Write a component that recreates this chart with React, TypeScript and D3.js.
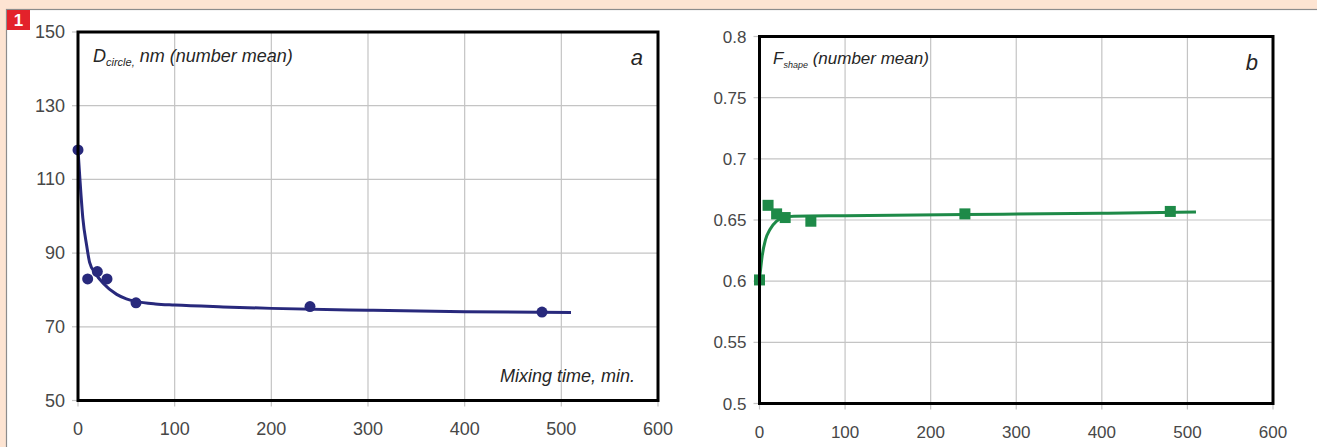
import React from "react";
import * as d3 from "d3";

// Panel a: mean circle-equivalent diameter vs mixing time
const timeA = [0, 10, 20, 30, 60, 240, 480];
const diameter = [118, 83, 85, 83, 76.5, 75.5, 74];
const fitTimeA = [0, 2, 5, 9, 12, 18, 26, 40, 50, 60, 80, 100, 150, 200, 300, 400, 510];
const fitDiameter = [118, 110, 99.5, 92, 87.5, 84.5, 81.8, 78.8, 77.6, 76.9, 76.2, 75.9, 75.4, 75.0, 74.5, 74.1, 73.9];

// Panel b: mean shape factor vs mixing time
const timeB = [0, 10, 20, 30, 60, 240, 480];
const shape = [0.601, 0.662, 0.655, 0.652, 0.649, 0.655, 0.657];
const fitTimeB = [0, 3, 7, 12, 20, 28, 40, 100, 240, 400, 510];
const fitShape = [0.601, 0.62, 0.634, 0.642, 0.649, 0.652, 0.653, 0.6535, 0.6545, 0.6555, 0.6565];

const xTicks = [0, 100, 200, 300, 400, 500, 600];
const yTicksA = [50, 70, 90, 110, 130, 150];
const yTicksB = [0.5, 0.55, 0.6, 0.65, 0.7, 0.75, 0.8];

const W = 1317;
const H = 447;
const FONT = "'Liberation Sans', Arial, sans-serif";
const GRID = "#c4c4c4";
const TICK_COLOR = "#474747";
const TEXT_COLOR = "#262626";

type PanelProps = {
  x0: number;
  x1: number;
  y0: number;
  y1: number;
  yDomain: [number, number];
  yTicks: number[];
  tickSize: number;
  fmt: (v: number) => string;
  children: (x: d3.ScaleLinear<number, number>, y: d3.ScaleLinear<number, number>) => React.ReactNode;
};

function Panel({ x0, x1, y0, y1, yDomain, yTicks, tickSize, fmt, children }: PanelProps) {
  const x = d3.scaleLinear().domain([0, 600]).range([x0, x1]);
  const y = d3.scaleLinear().domain(yDomain).range([y1, y0]);
  return (
    <g>
      <rect x={x0} y={y0} width={x1 - x0} height={y1 - y0} fill="#fff" />
      {xTicks.slice(1, -1).map((t) => (
        <line key={"gx" + t} x1={x(t)} x2={x(t)} y1={y0} y2={y1} stroke={GRID} strokeWidth={1.2} />
      ))}
      {yTicks.slice(1, -1).map((t) => (
        <line key={"gy" + t} x1={x0} x2={x1} y1={y(t)} y2={y(t)} stroke={GRID} strokeWidth={1.2} />
      ))}
      {xTicks.map((t) => (
        <g key={"tx" + t}>
          <line x1={x(t)} x2={x(t)} y1={y1} y2={y1 + 6} stroke={GRID} strokeWidth={1.2} />
          <text x={x(t)} y={y1 + 34} textAnchor="middle" fontSize={tickSize} fill={TICK_COLOR} fontFamily={FONT}>
            {t}
          </text>
        </g>
      ))}
      {yTicks.map((t) => (
        <g key={"ty" + t}>
          <line x1={x0 - 6} x2={x0} y1={y(t)} y2={y(t)} stroke={GRID} strokeWidth={1.2} />
          <text x={x0 - 13} y={y(t) + 6} textAnchor="end" fontSize={tickSize} fill={TICK_COLOR} fontFamily={FONT}>
            {fmt(t)}
          </text>
        </g>
      ))}
      {children(x, y)}
      <rect x={x0} y={y0} width={x1 - x0} height={y1 - y0} fill="none" stroke="#000" strokeWidth={3} />
    </g>
  );
}

export default function App() {
  const navy = "#28297c";
  const green = "#1e8a48";
  return (
    <div style={{ position: "fixed", left: 0, top: 0 }}>
      <svg width={W} height={H} style={{ display: "block" }}>
        <rect x={0} y={0} width={W} height={H} fill="#fde4d2" />
        <rect x={6.5} y={9.5} width={W} height={H} fill="#fff" stroke="#8c8c8c" strokeWidth={1.2} />
        <rect x={7} y={10} width={23} height={20} fill="#e3222b" />
        <text x={18.5} y={26} textAnchor="middle" fontSize={17} fontWeight="bold" fill="#fff" fontFamily={FONT}>
          1
        </text>

        <Panel x0={78} x1={658} y0={32} y1={400.5} yDomain={[50, 150]} yTicks={yTicksA} tickSize={18} fmt={(v) => String(v)}>
          {(x, y) => {
            const line = d3
              .line<number>()
              .x((_, i) => x(fitTimeA[i]))
              .y((d) => y(d))
              .curve(d3.curveMonotoneX);
            return (
              <g>
                <path d={line(fitDiameter) || ""} fill="none" stroke={navy} strokeWidth={3} />
                {timeA.map((t, i) => (
                  <circle key={i} cx={x(t)} cy={y(diameter[i])} r={5.5} fill={navy} />
                ))}
                <text x={93} y={62} fontSize={18} fontStyle="italic" fill={TEXT_COLOR} fontFamily={FONT}>
                  D
                  <tspan fontSize={11} dy={4}>circle,</tspan>
                  <tspan dy={-4}> nm (number mean)</tspan>
                </text>
                <text x={643} y={65} textAnchor="end" fontSize={22} fontStyle="italic" fill={TEXT_COLOR} fontFamily={FONT}>
                  a
                </text>
                <text x={635} y={382} textAnchor="end" fontSize={18} fontStyle="italic" fill={TEXT_COLOR} fontFamily={FONT}>
                  Mixing time, min.
                </text>
              </g>
            );
          }}
        </Panel>

        <Panel
          x0={759.5}
          x1={1273}
          y0={36.5}
          y1={403.5}
          yDomain={[0.5, 0.8]}
          yTicks={yTicksB}
          tickSize={17}
          fmt={(v) => String(+v.toFixed(2))}
        >
          {(x, y) => {
            const line = d3
              .line<number>()
              .x((_, i) => x(fitTimeB[i]))
              .y((d) => y(d))
              .curve(d3.curveMonotoneX);
            return (
              <g>
                <path d={line(fitShape) || ""} fill="none" stroke={green} strokeWidth={3} />
                {timeB.map((t, i) => (
                  <rect key={i} x={x(t) - 5.5} y={y(shape[i]) - 5.5} width={11} height={11} fill={green} />
                ))}
                <text x={773} y={64} fontSize={17} fontStyle="italic" fill={TEXT_COLOR} fontFamily={FONT}>
                  F
                  <tspan fontSize={9} dy={4}>shape</tspan>
                  <tspan dy={-4}> (number mean)</tspan>
                </text>
                <text x={1258} y={70} textAnchor="end" fontSize={22} fontStyle="italic" fill={TEXT_COLOR} fontFamily={FONT}>
                  b
                </text>
              </g>
            );
          }}
        </Panel>
      </svg>
    </div>
  );
}
